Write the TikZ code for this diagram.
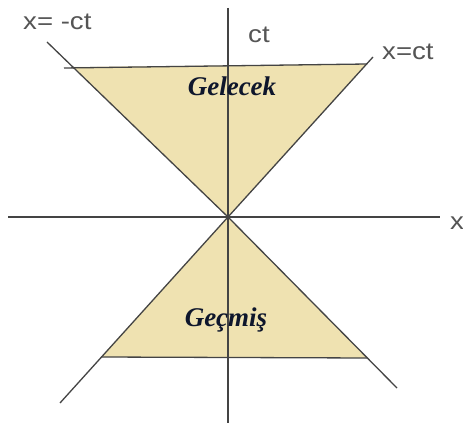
\documentclass[tikz,border=0pt]{standalone}
\usepackage{fontspec}
\setmainfont{Liberation Serif}
\newfontfamily\axisfont{Liberation Sans}
\usepackage{xcolor}
\usepackage{tikz}
\usetikzlibrary{positioning}

\definecolor{conefill}{RGB}{239,226,177}
\definecolor{coneline}{RGB}{68,68,68}
\definecolor{axistext}{RGB}{85,85,85}
\definecolor{regiontext}{RGB}{14,22,44}

\tikzset{
  coneedge/.style={draw=coneline, line width=1.3pt},
  axislabel/.style={text=axistext, inner sep=0pt, anchor=base west, font=\axisfont\fontsize{24}{28}\selectfont},
  regionlabel/.style={text=regiontext, inner sep=0pt, anchor=base, font=\fontsize{27}{30}\selectfont\bfseries\itshape}
}

\begin{document}
\begin{tikzpicture}[x=1pt, y=-1pt]
\useasboundingbox[fill=white] (0,0) rectangle (463,427);
% event at the origin and ends of the light lines
\coordinate (O) at (228,217);
\coordinate (ul) at (47,42);
\coordinate (lr) at (397,388);
\coordinate (ur) at (373,57);
\coordinate (ll) at (60,403);
% future and past regions
\fill[conefill] (73,67) -- (367,64) -- (O) -- cycle;
\fill[conefill] (101,357) -- (367,358) -- (O) -- cycle;
\draw[coneedge] (64,68) -- (367,64);
\draw[coneedge] (101,357) -- (367,358);
% axes
\draw[coneedge] (228,8) -- (228,423);
\draw[coneedge] (8,217) -- (440,217);
% light lines
\draw[coneedge] (ul) -- (O) -- (lr);
\draw[coneedge] (ur) -- (O) -- (ll);
% labels
\node[axislabel] (lblneg) at (23,30) {\scalebox{1.15}[1]{x= -ct}};
\node[axislabel] (lblct) at (248,43) {\scalebox{1.15}[1]{ct}};
\node[axislabel] (lblpos) at (382,60) {\scalebox{1.15}[1]{x=ct}};
\node[axislabel] (lblx) at (450,230) {\scalebox{1.15}[1]{x}};
\node[regionlabel] (future) at (232,96) {Gelecek};
\node[regionlabel] (past) at (226,327) {Geçmiş};
\end{tikzpicture}
\end{document}
